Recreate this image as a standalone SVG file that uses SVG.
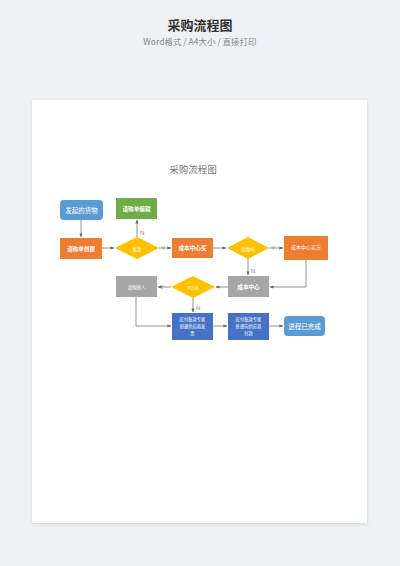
<svg xmlns="http://www.w3.org/2000/svg" width="400" height="566" viewBox="0 0 400 566">
<defs>
<marker id="ah" viewBox="0 0 10 10" refX="9" refY="5" markerWidth="5" markerHeight="5" orient="auto"><path d="M0,1 L10,5 L0,9 z" fill="#6b6b6b"/></marker>
<filter id="sh" x="-5%" y="-5%" width="110%" height="110%"><feDropShadow dx="0" dy="1" stdDeviation="1.5" flood-color="#000" flood-opacity="0.12"/></filter>
<style>
.t{font-family:"Noto Sans CJK SC","Noto Sans",sans-serif;fill:#fff;text-anchor:middle;dominant-baseline:central}
.s{font-size:5.6px;font-weight:bold}
.m{font-size:6.5px}
.c{stroke:#777;stroke-width:0.8;fill:none;marker-end:url(#ah)}
.l{font-family:"Liberation Sans",sans-serif;font-size:6px;fill:#888}
</style>
</defs>
<rect width="400" height="566" fill="#eef1f4"/>
<text x="200" y="30" font-family="Noto Sans CJK SC, sans-serif" font-size="13" font-weight="bold" fill="#333" text-anchor="middle">采购流程图</text>
<text x="200" y="45" font-family="Noto Sans CJK SC, sans-serif" font-size="8.5" fill="#888" text-anchor="middle">Word格式 / A4大小 / 直接打印</text>
<rect x="32" y="100" width="335" height="423" fill="#fff" filter="url(#sh)"/>
<text x="193" y="173" font-family="Noto Sans CJK SC, sans-serif" font-size="9.5" fill="#777" text-anchor="middle">采购流程图</text>

<g id="connectors">
<path class="c" d="M81,220 V237"/>
<path class="c" d="M102,248 H114"/>
<path class="c" d="M137,237 V220"/>
<path class="c" d="M159,248 H171"/>
<path class="c" d="M213,248 H226"/>
<path class="c" d="M269,248 H283"/>
<path class="c" d="M248,259 V275"/>
<path class="c" d="M306,260 V287 H270"/>
<path class="c" d="M228,287 H216"/>
<path class="c" d="M171,287 H158"/>
<path class="c" d="M193,298 V312"/>
<path class="c" d="M136,297 V326 H171"/>
<path class="c" d="M213,326 H227"/>
<path class="c" d="M269,326 H283"/>
<text class="l" x="140" y="235">N</text>
<text class="l" x="161" y="250">Y</text>
<text class="l" x="271" y="250">Y</text>
<text class="l" x="251" y="273">N</text>
<text class="l" x="160" y="289">Y</text>
<text class="l" x="196" y="310">N</text>
</g>

<g id="n1"><rect x="60" y="200" width="43" height="20" rx="4" fill="#5b9bd5"/><text class="t m" x="81.5" y="210">发起的货物</text></g>
<g id="n2"><rect x="116" y="198" width="41" height="21" fill="#70ad47"/><text class="t s" x="136.5" y="208.5">请购单编辑</text></g>
<g id="n3"><rect x="60" y="238" width="42" height="21" fill="#ed7d31"/><text class="t s" x="81" y="248.5">请购单创建</text></g>
<g id="d1"><polygon points="115,248 137,237 159,248 137,259" fill="#ffc000"/><text class="t" font-size="4.5" x="137" y="248.5">批准</text></g>
<g id="n4"><rect x="172" y="238" width="41" height="20" fill="#ed7d31"/><text class="t s" x="192.5" y="248">成本中心买</text></g>
<g id="d2"><polygon points="227,248 248,237 269,248 248,259" fill="#ffc000"/><text class="t" font-size="4.5" x="248" y="248.5">批准吗</text></g>
<g id="n5"><rect x="284" y="236" width="44" height="24" fill="#ed7d31"/><text class="t" font-size="5" x="306" y="246">成本中心买方</text></g>
<g id="n6"><rect x="228" y="276" width="41" height="21" fill="#a6a6a6"/><text class="t s" x="248.5" y="286.5">成本中心</text></g>
<g id="d3"><polygon points="171,287 193,276 215,287 193,298" fill="#ffc000"/><text class="t" font-size="4.5" x="193" y="287.5">PO 吗</text></g>
<g id="n7"><rect x="116" y="276" width="41" height="21" fill="#a6a6a6"/><text class="t" font-size="4.5" x="136.5" y="286.5">请购放人</text></g>
<g id="n8"><rect x="172" y="313" width="41" height="27" fill="#4472c4"/><text class="t" font-size="4.3" x="192.5" y="319">应付账款专家</text><text class="t" font-size="4.3" x="192.5" y="326">创建供应商发</text><text class="t" font-size="4.3" x="192.5" y="333">票</text></g>
<g id="n9"><rect x="228" y="313" width="41" height="27" fill="#4472c4"/><text class="t" font-size="4.3" x="248.5" y="319">应付账款专家</text><text class="t" font-size="4.3" x="248.5" y="326">处理向供应商</text><text class="t" font-size="4.3" x="248.5" y="333">付款</text></g>
<g id="n10"><rect x="284" y="316" width="41" height="20" rx="4" fill="#5b9bd5"/><text class="t m" x="304.5" y="326">进程已完成</text></g>
</svg>
